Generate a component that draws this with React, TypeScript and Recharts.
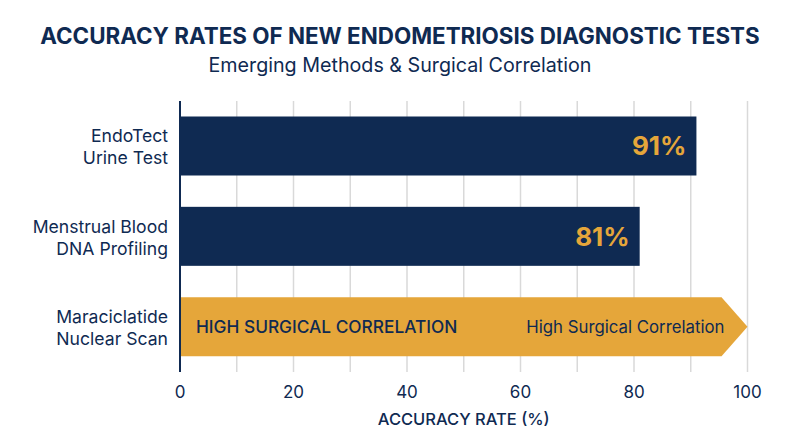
import { Bar, BarChart, CartesianGrid, Cell, LabelList, XAxis, YAxis } from "recharts";

const FONT = "Inter, sans-serif";
const NAVY = "#0f2a52";
const GOLD = "#e5a63a";

const categories = ["EndoTect\nUrine Test", "Menstrual Blood\nDNA Profiling", "Maraciclatide\nNuclear Scan"];
const values = [91, 81, 100];
const valueLabels = ["91%", "81%", ""];
const leftNotes = ["", "", "HIGH SURGICAL CORRELATION"];
const rightNotes = ["", "", "High Surgical Correlation"];
const barColors = [NAVY, NAVY, GOLD];
const xTicks = [0, 20, 40, 60, 80, 100];
const gridValues = [10, 20, 30, 40, 50, 60, 70, 80, 90, 100];

const data = categories.map((name, i) => ({
    name,
    value: values[i],
    valueLabel: valueLabels[i],
    leftNote: leftNotes[i],
    rightNote: rightNotes[i],
}));

function CategoryTick(props: any) {
    const { x, y, payload } = props;
    const lines = String(payload.value).split("\n");
    return (
        <text x={x} y={y} textAnchor="end" fill={NAVY} fontSize={17.6} fontFamily={FONT}>
            <tspan x={x} dy={-4}>{lines[0]}</tspan>
            <tspan x={x} dy={22}>{lines[1]}</tspan>
        </text>
    );
}

// last bar is drawn as an arrow when it has notes on it
function BarShape(props: any) {
    const { x, y, width, height, fill, payload } = props;
    if (!payload.leftNote) {
        return <rect x={x} y={y} width={width} height={height} fill={fill} />;
    }
    const tip = height * 0.44;
    const d = `M${x},${y}H${x + width - tip}L${x + width},${y + height / 2}L${x + width - tip},${y + height}H${x}Z`;
    return <path d={d} fill={fill} />;
}

function NoteLabel(props: any) {
    const { x, y, width, height, value, side } = props;
    if (!value) return null;
    const left = side === "left";
    return (
        <text
            x={left ? x + 16 : x + width - 23}
            y={y + height / 2 + 6}
            textAnchor={left ? "start" : "end"}
            fill={NAVY}
            fontFamily={FONT}
            fontSize={left ? 17.3 : 16.8}
            fontWeight={left ? 500 : 400}
        >
            {value}
        </text>
    );
}

export default function App() {
    return (
        <div style={{ position: "absolute", left: 0, top: 0, width: 800, height: 447, background: "#fff", fontFamily: FONT, color: NAVY }}>
            <div style={{ position: "absolute", left: 0, width: 800, top: 22, textAlign: "center", fontSize: 22.4, fontWeight: 700, lineHeight: "28px", whiteSpace: "nowrap" }}>
                ACCURACY RATES OF NEW ENDOMETRIOSIS DIAGNOSTIC TESTS
            </div>
            <div style={{ position: "absolute", left: 0, width: 800, top: 52, textAlign: "center", fontSize: 19.7, lineHeight: "26px", whiteSpace: "nowrap" }}>
                Emerging Methods &amp; Surgical Correlation
            </div>
            <BarChart
                width={800}
                height={447}
                data={data}
                layout="vertical"
                barCategoryGap={15.5}
                margin={{ top: 101, right: 52.5, bottom: 0, left: 0 }}
            >
                <CartesianGrid horizontal={false} stroke="#d9d9d9" strokeWidth={1.5} verticalValues={gridValues} />
                <XAxis
                    type="number"
                    domain={[0, 100]}
                    ticks={xTicks}
                    axisLine={false}
                    tickLine={false}
                    height={75}
                    tickMargin={8}
                    tick={{ fill: NAVY, fontSize: 17, fontFamily: FONT }}
                    label={{ value: "ACCURACY RATE (%)", position: "insideBottom", offset: 22, fill: NAVY, fontSize: 16.5, fontFamily: FONT, fontWeight: 500 }}
                />
                <YAxis
                    type="category"
                    dataKey="name"
                    width={180}
                    interval={0}
                    axisLine={{ stroke: NAVY, strokeWidth: 2 }}
                    tickLine={false}
                    tickMargin={6}
                    tick={<CategoryTick />}
                />
                <Bar dataKey="value" isAnimationActive={false} shape={<BarShape />}>
                    {data.map((d, i) => (
                        <Cell key={d.name} fill={barColors[i]} />
                    ))}
                    <LabelList dataKey="valueLabel" position="insideRight" offset={10} fill={GOLD} fontSize={26} fontWeight={700} fontFamily={FONT} />
                    <LabelList dataKey="leftNote" content={<NoteLabel side="left" />} />
                    <LabelList dataKey="rightNote" content={<NoteLabel side="right" />} />
                </Bar>
            </BarChart>
        </div>
    );
}
